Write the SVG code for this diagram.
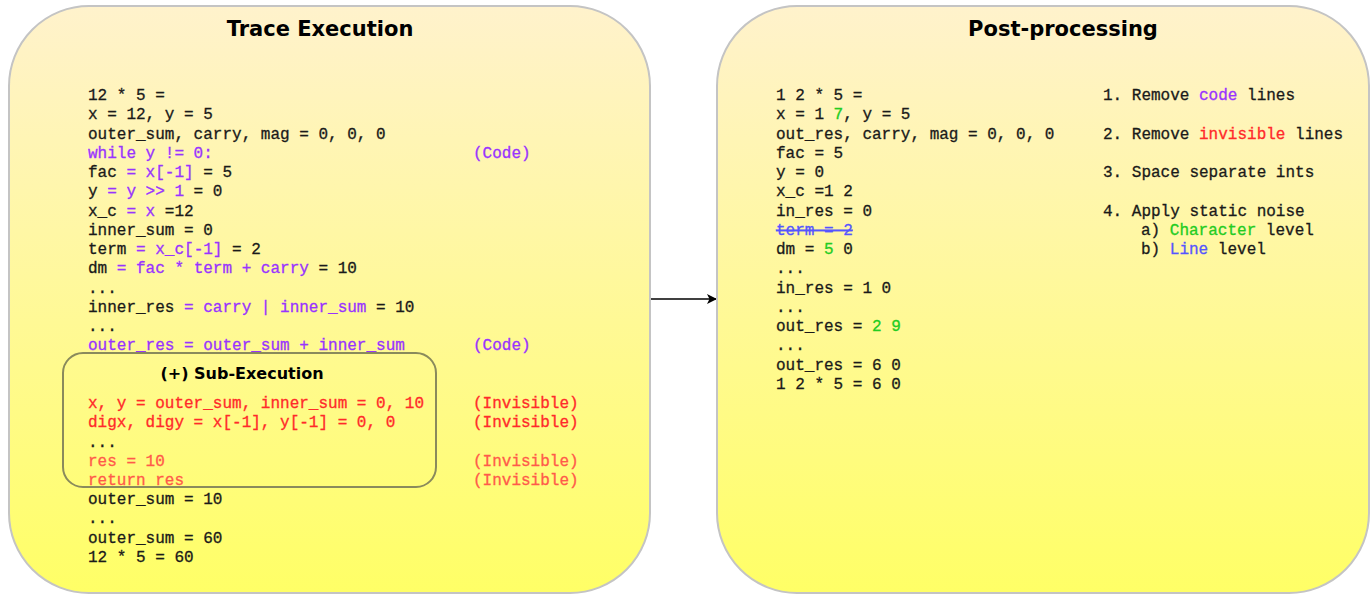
<svg xmlns="http://www.w3.org/2000/svg" width="1371" height="597" viewBox="0 0 1371 597">
<defs>
<linearGradient id="g" x1="0" y1="0" x2="0" y2="1">
<stop offset="0" stop-color="#fff2cc"/>
<stop offset="1" stop-color="#ffff66"/>
</linearGradient>
<marker id="arr" viewBox="0 0 10 10" refX="9" refY="5" markerWidth="10" markerHeight="10" markerUnits="userSpaceOnUse" orient="auto">
<path d="M0,0 L10,5 L0,10 L2.5,5 Z" fill="#000"/>
</marker>
<style>
.panel{fill:url(#g);stroke:#c4c4c4;stroke-width:2}
.title{font-family:"DejaVu Sans",Verdana,sans-serif;font-weight:bold;font-size:21px;fill:#000;text-anchor:middle}
.sub{font-family:"DejaVu Sans",Verdana,sans-serif;font-weight:bold;font-size:16px;fill:#000;text-anchor:middle}
.c{font-family:"Liberation Mono","Courier New",monospace;font-size:16px;fill:#1a1a1a;stroke:#1a1a1a;stroke-width:0.3}
.p{fill:#9933ff;stroke:#9933ff}
.r{fill:#ff2a2a;stroke:#ff2a2a}
.o{fill:#ff5a4a;stroke:#ff5a4a}
.gr{fill:#22cc22;stroke:#22cc22}
.b{fill:#5555ff;stroke:#5555ff}
</style>
</defs>
<g id="connectors">
<line x1="651" y1="299" x2="716" y2="299" stroke="#000" stroke-width="1.3" marker-end="url(#arr)"/>
</g>
<g id="trace-execution">
<rect class="panel" x="9" y="6" width="641" height="587" rx="80" ry="80"/>
<text class="title" x="320" y="36">Trace Execution</text>
<g class="c" xml:space="preserve">
<text x="88" y="100">12 * 5 =</text>
<text x="88" y="119.25">x = 12, y = 5</text>
<text x="88" y="138.5">outer_sum, carry, mag = 0, 0, 0</text>
<text x="88" y="157.75" class="p">while y != 0:</text>
<text x="88" y="177">fac <tspan class="p">= x[-1]</tspan> = 5</text>
<text x="88" y="196.25">y <tspan class="p">= y &gt;&gt; 1</tspan> = 0</text>
<text x="88" y="215.5">x_c <tspan class="p">= x</tspan> =12</text>
<text x="88" y="234.75">inner_sum = 0</text>
<text x="88" y="254">term <tspan class="p">= x_c[-1]</tspan> = 2</text>
<text x="88" y="273.25">dm <tspan class="p">= fac * term + carry</tspan> = 10</text>
<text x="88" y="292.5">...</text>
<text x="88" y="311.75">inner_res <tspan class="p">= carry | inner_sum</tspan> = 10</text>
<text x="88" y="331">...</text>
<text x="88" y="350.25" class="p">outer_res = outer_sum + inner_sum</text>
<text x="473" y="157.75" class="p">(Code)</text>
<text x="473" y="350.25" class="p">(Code)</text>
<text x="88" y="408.2" class="r">x, y = outer_sum, inner_sum = 0, 10</text>
<text x="88" y="427.4" class="r">digx, digy = x[-1], y[-1] = 0, 0</text>
<text x="88" y="446.6">...</text>
<text x="88" y="465.8" class="o">res = 10</text>
<text x="88" y="485" class="o">return res</text>
<text x="473" y="408.2" class="r">(Invisible)</text>
<text x="473" y="427.4" class="r">(Invisible)</text>
<text x="473" y="465.8" class="o">(Invisible)</text>
<text x="473" y="485" class="o">(Invisible)</text>
<text x="88" y="504.2">outer_sum = 10</text>
<text x="88" y="523.4">...</text>
<text x="88" y="542.6">outer_sum = 60</text>
<text x="88" y="561.8">12 * 5 = 60</text>
</g>
</g>
<g id="sub-execution">
<rect x="63" y="353" width="373" height="134" rx="20" ry="20" fill="none" stroke="#8a8a5c" stroke-width="2"/>
<text class="sub" x="242" y="379">(+) Sub-Execution</text>
</g>
<g id="post-processing">
<rect class="panel" x="717" y="6" width="652" height="587" rx="80" ry="80"/>
<text class="title" x="1063" y="36">Post-processing</text>
<g class="c" xml:space="preserve">
<text x="776" y="100">1 2 * 5 =</text>
<text x="776" y="119.25">x = 1 <tspan class="gr">7</tspan>, y = 5</text>
<text x="776" y="138.5">out_res, carry, mag = 0, 0, 0</text>
<text x="776" y="157.75">fac = 5</text>
<text x="776" y="177">y = 0</text>
<text x="776" y="196.25">x_c =1 2</text>
<text x="776" y="215.5">in_res = 0</text>
<text x="776" y="234.75" class="b" text-decoration="line-through">term = 2</text>
<text x="776" y="254">dm = <tspan class="gr">5</tspan> 0</text>
<text x="776" y="273.25">...</text>
<text x="776" y="292.5">in_res = 1 0</text>
<text x="776" y="311.75">...</text>
<text x="776" y="331">out_res = <tspan class="gr">2 9</tspan></text>
<text x="776" y="350.25">...</text>
<text x="776" y="369.5">out_res = 6 0</text>
<text x="776" y="388.75">1 2 * 5 = 6 0</text>
<text x="1103" y="100">1. Remove <tspan class="p">code</tspan> lines</text>
<text x="1103" y="138.5">2. Remove <tspan class="r">invisible</tspan> lines</text>
<text x="1103" y="177">3. Space separate ints</text>
<text x="1103" y="215.5">4. Apply static noise</text>
<text x="1141" y="234.75">a) <tspan class="gr">Character</tspan> level</text>
<text x="1141" y="254">b) <tspan class="b">Line</tspan> level</text>
</g>
</g>
</svg>
